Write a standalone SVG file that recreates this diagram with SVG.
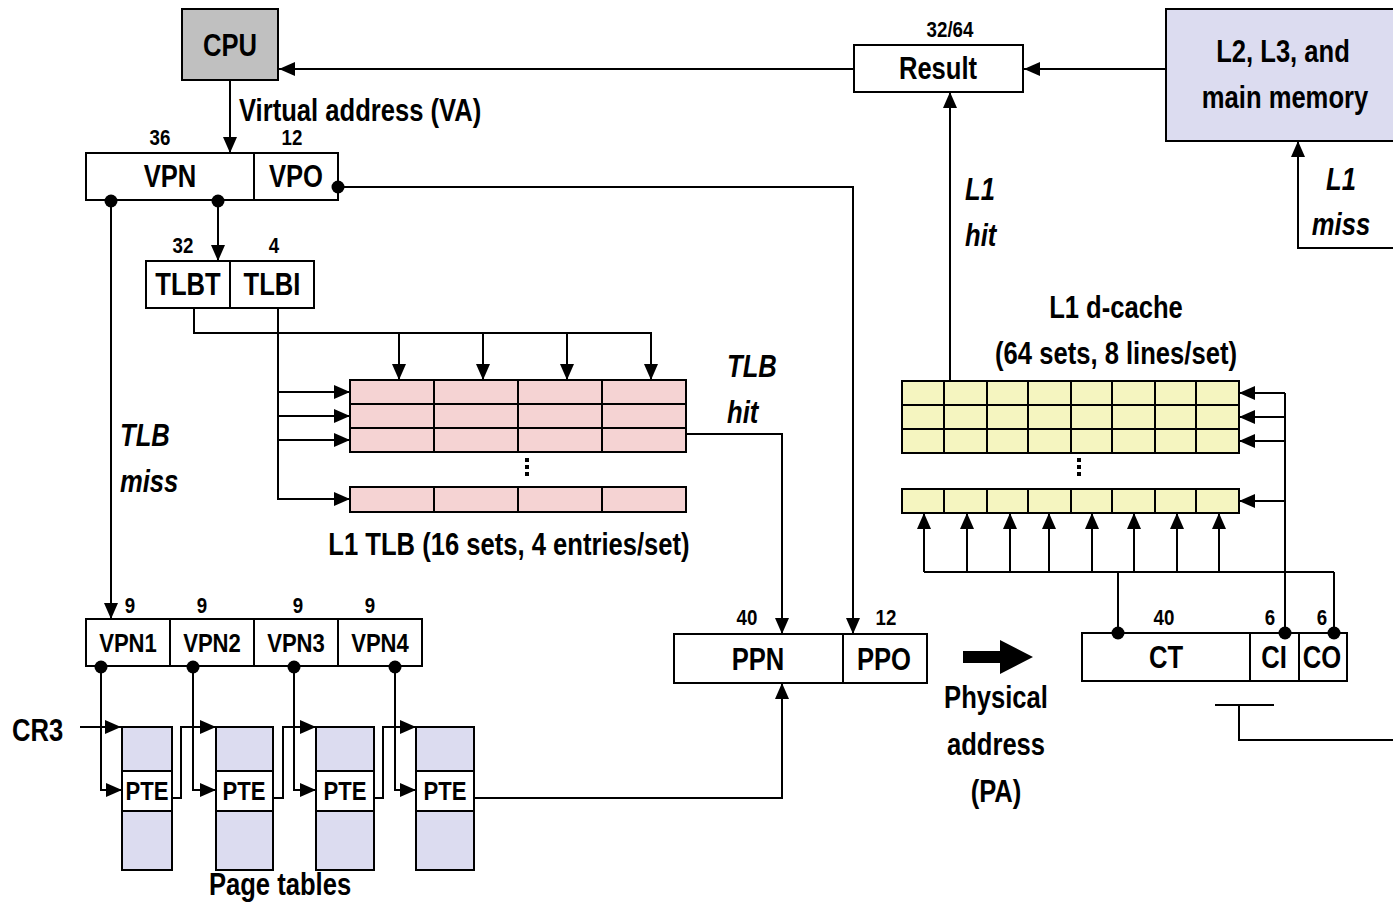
<svg xmlns="http://www.w3.org/2000/svg" width="1393" height="902" viewBox="0 0 1393 902">
<style>
  text { font-family: "Liberation Sans", Arial, sans-serif; font-weight: bold; fill: #000; }
  .c { text-anchor: middle; }
  .L { font-size: 32px; }
  .M { font-size: 26px; }
  .S { font-size: 22px; }
  .i { font-style: italic; font-size: 32px; }
  .box { fill: #fff; stroke: #000; stroke-width: 2; }
  .ln { fill: none; stroke: #000; stroke-width: 2; }
  .tlb { fill: #f5d3d3; stroke: #000; stroke-width: 2; }
  .cache { fill: #f5f5c0; stroke: #000; stroke-width: 2; }
  .pt { fill: #dcdcf0; stroke: #000; stroke-width: 2; }
  .arr { fill: none; stroke: #000; stroke-width: 2; marker-end: url(#ah); }
</style>
<defs>
  <marker id="ah" viewBox="0 0 16 14" refX="16" refY="7" markerWidth="16" markerHeight="14" orient="auto" markerUnits="userSpaceOnUse">
    <path d="M0,0 L16,7 L0,14 z" fill="#000"/>
  </marker>
</defs>
<rect width="1393" height="902" fill="#fff"/>

<g id="cpu">
  <rect x="182" y="9" width="96" height="71" fill="#c0c0c0" stroke="#000" stroke-width="2"/>
  <text class="L c" transform="matrix(.8 0 0 1 230 56)">CPU</text>
</g>

<g id="va-label">
  <text class="L" transform="matrix(.8 0 0 1 239 121)">Virtual address (VA)</text>
</g>

<g id="va">
  <rect class="box" x="86" y="153" width="252" height="47"/>
  <line class="ln" x1="254" y1="153" x2="254" y2="200"/>
  <text class="L c" transform="matrix(.8 0 0 1 170 187)">VPN</text>
  <text class="L c" transform="matrix(.8 0 0 1 296 187)">VPO</text>
  <text class="S c" transform="matrix(.85 0 0 1 160 145)">36</text>
  <text class="S c" transform="matrix(.85 0 0 1 292 145)">12</text>
</g>

<g id="tlbaddr">
  <rect class="box" x="146" y="261" width="168" height="47"/>
  <line class="ln" x1="230" y1="261" x2="230" y2="308"/>
  <text class="L c" transform="matrix(.8 0 0 1 188 295)">TLBT</text>
  <text class="L c" transform="matrix(.8 0 0 1 272 295)">TLBI</text>
  <text class="S c" transform="matrix(.85 0 0 1 183 253)">32</text>
  <text class="S c" transform="matrix(.85 0 0 1 274 253)">4</text>
</g>

<g id="tlb">
  <rect class="tlb" x="350" y="380" width="336" height="72"/>
  <line class="ln" x1="350" y1="404" x2="686" y2="404"/>
  <line class="ln" x1="350" y1="428" x2="686" y2="428"/>
  <line class="ln" x1="434" y1="380" x2="434" y2="452"/>
  <line class="ln" x1="518" y1="380" x2="518" y2="452"/>
  <line class="ln" x1="602" y1="380" x2="602" y2="452"/>
  <rect x="525" y="458" width="4" height="4" fill="#000"/>
  <rect x="525" y="465" width="4" height="4" fill="#000"/>
  <rect x="525" y="472" width="4" height="4" fill="#000"/>
  <rect class="tlb" x="350" y="487" width="336" height="25"/>
  <line class="ln" x1="434" y1="487" x2="434" y2="512"/>
  <line class="ln" x1="518" y1="487" x2="518" y2="512"/>
  <line class="ln" x1="602" y1="487" x2="602" y2="512"/>
  <text class="L c" transform="matrix(.8 0 0 1 509 555)">L1 TLB (16 sets, 4 entries/set)</text>
</g>

<g id="tlb-hit-label">
  <text class="i" transform="matrix(.8 0 0 1 727 377)">TLB</text>
  <text class="i" transform="matrix(.8 0 0 1 727 423)">hit</text>
</g>
<g id="tlb-miss-label">
  <text class="i" transform="matrix(.8 0 0 1 120 446)">TLB</text>
  <text class="i" transform="matrix(.8 0 0 1 120 492)">miss</text>
</g>

<g id="vpns">
  <rect class="box" x="86" y="619" width="336" height="47"/>
  <line class="ln" x1="170" y1="619" x2="170" y2="666"/>
  <line class="ln" x1="254" y1="619" x2="254" y2="666"/>
  <line class="ln" x1="338" y1="619" x2="338" y2="666"/>
  <text class="M c" transform="matrix(.85 0 0 1 128 652)">VPN1</text>
  <text class="M c" transform="matrix(.85 0 0 1 212 652)">VPN2</text>
  <text class="M c" transform="matrix(.85 0 0 1 296 652)">VPN3</text>
  <text class="M c" transform="matrix(.85 0 0 1 380 652)">VPN4</text>
  <text class="S c" transform="matrix(.85 0 0 1 130 613)">9</text>
  <text class="S c" transform="matrix(.85 0 0 1 202 613)">9</text>
  <text class="S c" transform="matrix(.85 0 0 1 298 613)">9</text>
  <text class="S c" transform="matrix(.85 0 0 1 370 613)">9</text>
</g>

<g id="cr3">
  <text class="L" transform="matrix(.8 0 0 1 12 741)">CR3</text>
</g>

<g id="pagetables">
  <rect class="pt" x="122" y="727" width="50" height="143"/>
  <rect class="box" x="122" y="771" width="50" height="40"/>
  <text class="M c" transform="matrix(.85 0 0 1 147 800)">PTE</text>
  <rect class="pt" x="216" y="727" width="57" height="143"/>
  <rect class="box" x="216" y="771" width="57" height="40"/>
  <text class="M c" transform="matrix(.85 0 0 1 244 800)">PTE</text>
  <rect class="pt" x="316" y="727" width="58" height="143"/>
  <rect class="box" x="316" y="771" width="58" height="40"/>
  <text class="M c" transform="matrix(.85 0 0 1 345 800)">PTE</text>
  <rect class="pt" x="416" y="727" width="58" height="143"/>
  <rect class="box" x="416" y="771" width="58" height="40"/>
  <text class="M c" transform="matrix(.85 0 0 1 445 800)">PTE</text>
  <text class="L c" transform="matrix(.8 0 0 1 280 895)">Page tables</text>
</g>

<g id="pa">
  <rect class="box" x="674" y="634" width="253" height="49"/>
  <line class="ln" x1="843" y1="634" x2="843" y2="683"/>
  <text class="L c" transform="matrix(.8 0 0 1 758 670)">PPN</text>
  <text class="L c" transform="matrix(.8 0 0 1 884 670)">PPO</text>
  <text class="S c" transform="matrix(.85 0 0 1 747 625)">40</text>
  <text class="S c" transform="matrix(.85 0 0 1 886 625)">12</text>
</g>

<g id="pa-label">
  <polygon points="963,651 1000,651 1000,640 1033,657 1000,674 1000,663 963,663" fill="#000"/>
  <text class="L c" transform="matrix(.8 0 0 1 996 708)">Physical</text>
  <text class="L c" transform="matrix(.8 0 0 1 996 755)">address</text>
  <text class="L c" transform="matrix(.8 0 0 1 996 802)">(PA)</text>
</g>

<g id="cacheaddr">
  <rect class="box" x="1082" y="633" width="265" height="48"/>
  <line class="ln" x1="1250" y1="633" x2="1250" y2="681"/>
  <line class="ln" x1="1299" y1="633" x2="1299" y2="681"/>
  <text class="L c" transform="matrix(.8 0 0 1 1166 668)">CT</text>
  <text class="L c" transform="matrix(.8 0 0 1 1274 668)">CI</text>
  <text class="L c" transform="matrix(.8 0 0 1 1322 668)">CO</text>
  <text class="S c" transform="matrix(.85 0 0 1 1164 625)">40</text>
  <text class="S c" transform="matrix(.85 0 0 1 1270 625)">6</text>
  <text class="S c" transform="matrix(.85 0 0 1 1322 625)">6</text>
</g>

<g id="cache">
  <rect class="cache" x="902" y="381" width="337" height="72"/>
  <line class="ln" x1="902" y1="405" x2="1239" y2="405"/>
  <line class="ln" x1="902" y1="429" x2="1239" y2="429"/>
  <path class="ln" d="M944,381V453M987,381V453M1028,381V453M1071,381V453M1112,381V453M1155,381V453M1196,381V453"/>
  <rect x="1077" y="458" width="4" height="4" fill="#000"/>
  <rect x="1077" y="465" width="4" height="4" fill="#000"/>
  <rect x="1077" y="472" width="4" height="4" fill="#000"/>
  <rect class="cache" x="902" y="489" width="337" height="24"/>
  <path class="ln" d="M944,489V513M987,489V513M1028,489V513M1071,489V513M1112,489V513M1155,489V513M1196,489V513"/>
  <text class="L c" transform="matrix(.8 0 0 1 1116 318)">L1 d-cache</text>
  <text class="L c" transform="matrix(.8 0 0 1 1116 364)">(64 sets, 8 lines/set)</text>
</g>

<g id="result">
  <rect class="box" x="854" y="45" width="169" height="47"/>
  <text class="L c" transform="matrix(.8 0 0 1 938 79)">Result</text>
  <text class="S c" transform="matrix(.85 0 0 1 950 37)">32/64</text>
</g>

<g id="mem">
  <rect x="1166" y="9" width="240" height="132" fill="#dcdcf0" stroke="#000" stroke-width="2"/>
  <text class="L c" transform="matrix(.8 0 0 1 1283 62)">L2, L3, and</text>
  <text class="L c" transform="matrix(.8 0 0 1 1285 108)">main memory</text>
</g>

<g id="l1-labels">
  <text class="i" transform="matrix(.8 0 0 1 965 200)">L1</text>
  <text class="i" transform="matrix(.8 0 0 1 965 246)">hit</text>
  <text class="i c" transform="matrix(.8 0 0 1 1341 190)">L1</text>
  <text class="i c" transform="matrix(.8 0 0 1 1341 235)">miss</text>
</g>

<g id="connectors">
  <line class="arr" x1="854" y1="69" x2="279" y2="69"/>
  <line class="arr" x1="1166" y1="69" x2="1024" y2="69"/>
  <line class="arr" x1="230" y1="80" x2="230" y2="153"/>
  <line class="arr" x1="218" y1="201" x2="218" y2="261"/>
  <path class="arr" d="M338,187 H853 V634"/>
  <line class="arr" x1="111" y1="201" x2="111" y2="619"/>
  <path class="arr" d="M194,308 V333 H651 V380"/>
  <line class="arr" x1="399" y1="333" x2="399" y2="380"/>
  <line class="arr" x1="483" y1="333" x2="483" y2="380"/>
  <line class="arr" x1="567" y1="333" x2="567" y2="380"/>
  <path class="arr" d="M278,308 V499 H350"/>
  <line class="arr" x1="278" y1="392" x2="350" y2="392"/>
  <line class="arr" x1="278" y1="416" x2="350" y2="416"/>
  <line class="arr" x1="278" y1="440" x2="350" y2="440"/>
  <path class="arr" d="M686,434 H782 V634"/>
  <path class="arr" d="M101,667 V790 H122"/>
  <line class="arr" x1="80" y1="727" x2="121" y2="727"/>
  <path class="arr" d="M172,798 H181 V727 H216"/>
  <path class="arr" d="M193,667 V790 H216"/>
  <path class="arr" d="M273,798 H283 V727 H316"/>
  <path class="arr" d="M294,667 V790 H316"/>
  <path class="arr" d="M374,798 H383 V727 H416"/>
  <path class="arr" d="M395,667 V790 H416"/>
  <path class="arr" d="M474,798 H782 V683"/>
  <line class="arr" x1="950" y1="381" x2="950" y2="92"/>
  <path class="arr" d="M1393,248 H1298 V141"/>
  <path class="ln" d="M1118,633 V572 M924,572 H1334 M1334,633 V572"/>
  <line class="arr" x1="924" y1="572" x2="924" y2="513"/>
  <line class="arr" x1="967" y1="572" x2="967" y2="513"/>
  <line class="arr" x1="1010" y1="572" x2="1010" y2="513"/>
  <line class="arr" x1="1049" y1="572" x2="1049" y2="513"/>
  <line class="arr" x1="1092" y1="572" x2="1092" y2="513"/>
  <line class="arr" x1="1134" y1="572" x2="1134" y2="513"/>
  <line class="arr" x1="1177" y1="572" x2="1177" y2="513"/>
  <line class="arr" x1="1219" y1="572" x2="1219" y2="513"/>
  <path class="ln" d="M1285,633 V393"/>
  <line class="arr" x1="1285" y1="393" x2="1239" y2="393"/>
  <line class="arr" x1="1285" y1="417" x2="1239" y2="417"/>
  <line class="arr" x1="1285" y1="441" x2="1239" y2="441"/>
  <line class="arr" x1="1285" y1="501" x2="1239" y2="501"/>
  <path class="ln" d="M1215,705 H1274 M1239,705 V740 H1393"/>
  <g fill="#000">
    <circle cx="111" cy="201" r="6.5"/>
    <circle cx="218" cy="201" r="6.5"/>
    <circle cx="338" cy="187" r="6.5"/>
    <circle cx="101" cy="667" r="6.5"/>
    <circle cx="193" cy="667" r="6.5"/>
    <circle cx="294" cy="667" r="6.5"/>
    <circle cx="395" cy="667" r="6.5"/>
    <circle cx="1118" cy="633" r="6.5"/>
    <circle cx="1285" cy="633" r="6.5"/>
    <circle cx="1334" cy="633" r="6.5"/>
  </g>
</g>
</svg>
